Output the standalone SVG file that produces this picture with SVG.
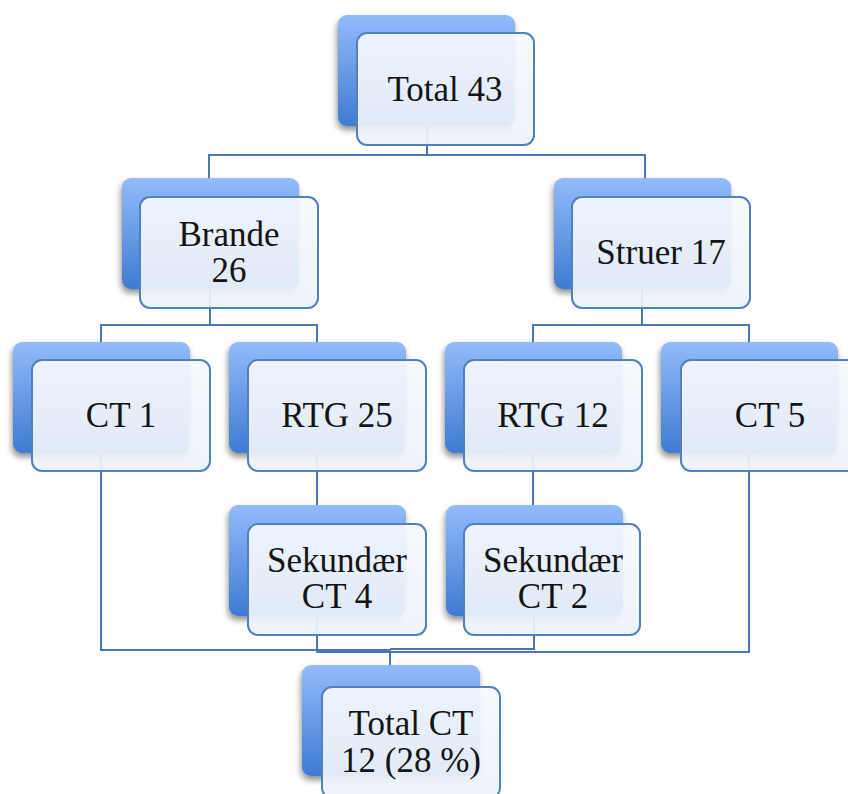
<svg xmlns="http://www.w3.org/2000/svg" width="848" height="794" viewBox="0 0 848 794">
  <defs>
    <linearGradient id="backGrad" x1="0" y1="0" x2="0" y2="1">
      <stop offset="0" stop-color="#92bbfa"/>
      <stop offset="1" stop-color="#3f7bd2"/>
    </linearGradient>
    <linearGradient id="frontGrad" x1="0" y1="0" x2="0" y2="1">
      <stop offset="0" stop-color="#f6f9fe"/>
      <stop offset="1" stop-color="#edf2fa"/>
    </linearGradient>
    <filter id="shadow" x="-20%" y="-20%" width="140%" height="150%">
      <feGaussianBlur in="SourceAlpha" stdDeviation="3"/>
      <feOffset dx="-1" dy="4" result="b"/>
      <feComponentTransfer><feFuncA type="linear" slope="0.45"/></feComponentTransfer>
      <feMerge><feMergeNode/><feMergeNode in="SourceGraphic"/></feMerge>
    </filter>
  </defs>
  <style>
    .back { fill: url(#backGrad); filter: url(#shadow); }
    .front { fill: url(#frontGrad); fill-opacity: 0.92; stroke: #4f81bd; stroke-width: 2; }
    .conn { fill: none; stroke: #4a78b4; stroke-width: 2; }
    .lbl { font-family: "Liberation Serif", "Times New Roman", serif; font-size: 35px; fill: #141414; text-anchor: middle; }
  </style>
  <rect width="848" height="794" fill="#ffffff"/>

  <g id="connectors">
    <path class="conn" d="M427,125 V155 M209,178 V155 H645 V178"/>
    <path class="conn" d="M210,289 V325 M101,342 V325 H317 V342"/>
    <path class="conn" d="M642,289 V325 M533,342 V325 H749 V342"/>
    <path class="conn" d="M317,453 V505"/>
    <path class="conn" d="M533,453 V505"/>
    <path class="conn" d="M101,453 V650 H390 V665"/>
    <path class="conn" d="M317,617 V652 H390"/>
    <path class="conn" d="M534,617 V649 H390"/>
    <path class="conn" d="M749,453 V652 H390"/>
  </g>

  <g id="total">
    <rect class="back" x="338" y="15" width="177" height="111" rx="9"/>
    <rect class="front" x="357" y="33" width="177" height="112" rx="10"/>
    <text class="lbl" x="445" y="101">Total 43</text>
  </g>
  <g id="brande">
    <rect class="back" x="122" y="178" width="177" height="111" rx="9"/>
    <rect class="front" x="140" y="197" width="178" height="111" rx="10"/>
    <text class="lbl" x="229" y="246">Brande</text>
    <text class="lbl" x="229" y="282">26</text>
  </g>
  <g id="struer">
    <rect class="back" x="554" y="178" width="177" height="111" rx="9"/>
    <rect class="front" x="572" y="197" width="178" height="111" rx="10"/>
    <text class="lbl" x="661" y="264">Struer 17</text>
  </g>
  <g id="ct1">
    <rect class="back" x="13" y="342" width="177" height="111" rx="9"/>
    <rect class="front" x="32" y="360" width="178" height="111" rx="10"/>
    <text class="lbl" x="121" y="427">CT 1</text>
  </g>
  <g id="rtg25">
    <rect class="back" x="229" y="342" width="177" height="111" rx="9"/>
    <rect class="front" x="248" y="360" width="178" height="111" rx="10"/>
    <text class="lbl" x="337" y="427">RTG 25</text>
  </g>
  <g id="rtg12">
    <rect class="back" x="445" y="342" width="177" height="111" rx="9"/>
    <rect class="front" x="464" y="360" width="178" height="111" rx="10"/>
    <text class="lbl" x="553" y="427">RTG 12</text>
  </g>
  <g id="ct5">
    <rect class="back" x="661" y="342" width="177" height="111" rx="9"/>
    <rect class="front" x="681" y="360" width="178" height="111" rx="10"/>
    <text class="lbl" x="770" y="427">CT 5</text>
  </g>
  <g id="sek4">
    <rect class="back" x="229" y="505" width="177" height="111" rx="9"/>
    <rect class="front" x="248" y="524" width="178" height="111" rx="10"/>
    <text class="lbl" x="337" y="572">Sekundær</text>
    <text class="lbl" x="337" y="608">CT 4</text>
  </g>
  <g id="sek2">
    <rect class="back" x="446" y="505" width="177" height="111" rx="9"/>
    <rect class="front" x="464" y="524" width="176" height="111" rx="10"/>
    <text class="lbl" x="553" y="572">Sekundær</text>
    <text class="lbl" x="553" y="608">CT 2</text>
  </g>
  <g id="totalct">
    <rect class="back" x="302" y="665" width="178" height="111" rx="9"/>
    <rect class="front" x="322" y="687" width="178" height="111" rx="10"/>
    <text class="lbl" x="411" y="735">Total CT</text>
    <text class="lbl" x="411" y="772">12 (28 %)</text>
  </g>
</svg>
